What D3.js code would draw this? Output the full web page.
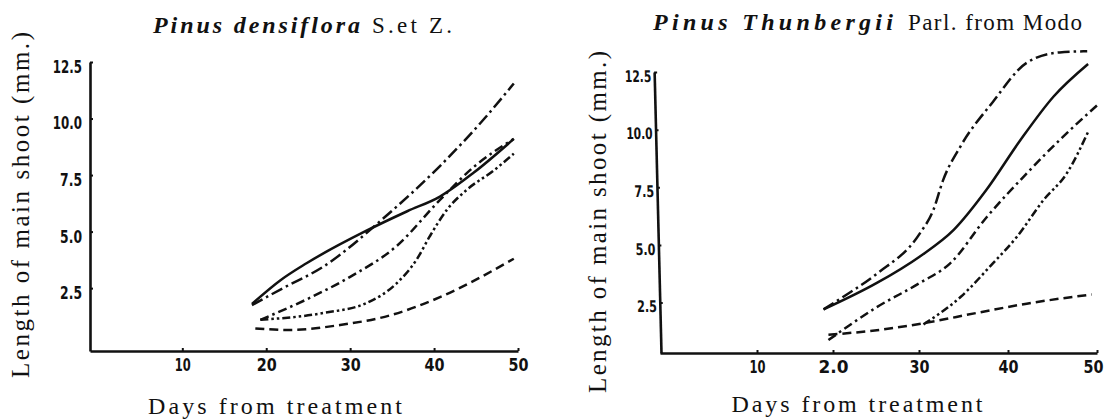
<!DOCTYPE html>
<html>
<head>
<meta charset="utf-8">
<script src="https://cdn.jsdelivr.net/npm/d3@7"></script>
<style>
  body { margin: 0; background: #fff; }
  svg { display: block; }
  .axis path, .axis line { stroke: #111; }
  .axis text { fill: #111; font-family: "DejaVu Sans Condensed", "DejaVu Sans", sans-serif; font-weight: bold; }
  .lbl { fill: #111; font-family: "Liberation Serif", "DejaVu Serif", serif; }
</style>
</head>
<body>
<div id="chart"></div>
<script>
/* DATA */
const dayTicks = [10, 20, 30, 40, 50];
const dayLabelsLeft = ["10", "20", "30", "40", "50"];
const dayLabelsRight = ["10", "2.0", "30", "40", "50"];
const lengthTicks = [2.5, 5, 7.5, 10, 12.5];

// Pinus densiflora, [day, length of main shoot in mm]
const densSolid = [[18.3, 1.8], [21.7, 2.85], [24.8, 3.6], [32, 5.05], [36.8, 5.9], [40.7, 6.55], [44.7, 7.6], [49.5, 9.1]];
const densLongDashDot = [[18.3, 1.75], [22, 2.5], [26.8, 3.45], [34, 5.6], [40.7, 7.9], [46, 10.0], [49.5, 11.55]];
const densDashDot = [[19.3, 1.1], [24.8, 2.0], [30, 3.0], [35.5, 4.35], [40.7, 6.4], [44.7, 7.85], [49.5, 9.1]];
const densDashDotDot = [[19.3, 1.1], [26.8, 1.4], [32, 1.85], [35.5, 2.7], [37.9, 3.75], [39.5, 4.8], [41.5, 5.95], [43.9, 6.85], [47.1, 7.7], [49.5, 8.45]];
const densDashed = [[18.7, 0.72], [22.8, 0.65], [28.8, 0.87], [34.8, 1.3], [40.7, 2.1], [49.5, 3.8]];

// Pinus Thunbergii from Modo
const thunLongDashDot = [[18.75, 2.2], [21.2, 2.75], [25.1, 3.75], [30.1, 5.5], [31.6, 6.5], [32.7, 7.8], [34.7, 9.3], [38.3, 11.2], [42.1, 12.9], [45.8, 13.35], [48.9, 13.4]];
const thunSolid = [[18.75, 2.2], [25.1, 3.35], [30.1, 4.5], [33.9, 5.65], [37.6, 7.4], [41.4, 9.55], [45.15, 11.45], [49, 12.85]];
const thunDashDot = [[19.4, 0.87], [25.1, 2.3], [30.1, 3.35], [33.5, 4.2], [37.6, 6.2], [42.1, 8.1], [46.2, 9.7], [50.15, 11.1]];
const thunDashDotDot = [[30.5, 1.55], [34.7, 2.75], [38.3, 4.2], [41, 5.35], [44, 6.95], [46.6, 8.1], [49, 9.9]];
const thunDashed = [[19.4, 1.1], [25.1, 1.3], [30.5, 1.6], [36.5, 2.05], [42.1, 2.45], [49.4, 2.85]];

/* STYLES */
const dashes = {
  solid: null,
  longDashDot: "12,4,2.5,4",
  dashDot: "9,4,2.5,4",
  dashDotDot: "8,3,2.5,3,2.5,3",
  dashed: "9,5"
};

const width = 1107, height = 419;

const svg = d3.select("#chart")
  .append("svg")
  .attr("width", width)
  .attr("height", height);

// text stretched to the length measured on the picture
function label(x, y, str, len, size, opts = {}) {
  const t = svg.append("text")
    .attr("class", "lbl")
    .attr("x", x)
    .attr("y", y)
    .attr("font-size", size)
    .attr("text-anchor", opts.anchor || "start")
    .attr("textLength", len)
    .attr("lengthAdjust", "spacing")
    .text(str);
  if (opts.italic) t.attr("font-style", "italic").attr("font-weight", "bold");
  if (opts.rotate) t.attr("transform", `rotate(-90,${x},${y})`);
  return t;
}

function panel(p) {
  const line = d3.line()
    .x(d => p.x(d[0]))
    .y(d => p.y(d[1]))
    .curve(d3.curveMonotoneX);

  // x axis
  const gx = svg.append("g")
    .attr("class", "axis")
    .attr("transform", `translate(0,${p.axisY})`)
    .call(d3.axisBottom(p.x)
      .tickValues(dayTicks)
      .tickFormat((d, i) => p.dayLabels[i])
      .tickSize(-3)
      .tickSizeOuter(0)
      .tickPadding(8));
  gx.select(".domain").attr("stroke-width", 2.6);
  gx.selectAll(".tick line").attr("stroke-width", 2);
  gx.selectAll("text")
    .attr("font-size", p.xFont)
    .attr("textLength", d => (d === 10 ? 0.8 : 1) * p.xCharW * String(p.dayLabels[dayTicks.indexOf(d)]).length)
    .attr("lengthAdjust", "spacingAndGlyphs")
    .attr("dx", d => (d === 50 ? p.lastDx : 0));

  // y axis (hand drawn, leaning a little on the right panel)
  const gy = svg.append("g")
    .attr("class", "axis")
    .attr("transform", `translate(${p.axisX},${p.axisY}) skewX(${p.lean}) translate(0,${-p.axisY})`)
    .call(d3.axisLeft(p.y)
      .tickValues(lengthTicks)
      .tickFormat(d3.format(".1f"))
      .tickSize(-3)
      .tickSizeOuter(0)
      .tickPadding(p.yPad));
  gy.select(".domain").attr("stroke-width", 2.6);
  gy.selectAll(".tick line").attr("stroke-width", 2);
  gy.selectAll("text")
    .attr("font-size", p.yFont)
    .attr("dy", "0.58em")
    .attr("textLength", d => p.yCharW * d3.format(".1f")(d).length)
    .attr("lengthAdjust", "spacingAndGlyphs");

  // curves
  svg.append("g")
    .selectAll("path")
    .data(p.series)
    .join("path")
    .attr("d", d => line(d.values))
    .attr("fill", "none")
    .attr("stroke", "#111")
    .attr("stroke-width", 2.5)
    .attr("stroke-dasharray", d => dashes[d.style]);
}

const xLeft = d3.scaleLinear().domain([-1, 50]).range([90, 518]);
const yLeft = d3.scaleLinear().domain([-0.28, 12.5]).range([351, 62]);
// the printed right axis is unevenly spaced
const xRight = d3.scaleLinear().domain([-0.7, 10, 20, 30, 40, 50]).range([660, 757, 833, 919, 1008, 1097]);
const yRight = d3.scaleLinear().domain([0.31, 12.5]).range([353, 72]);

panel({
  x: xLeft, y: yLeft, axisX: 90, axisY: 351, lean: 0, yPad: 8, lastDx: 0,
  xFont: 17, xCharW: 10, yFont: 18, yCharW: 7.3, dayLabels: dayLabelsLeft,
  series: [
    { values: densSolid, style: "solid" },
    { values: densLongDashDot, style: "longDashDot" },
    { values: densDashDot, style: "dashDot" },
    { values: densDashDotDot, style: "dashDotDot" },
    { values: densDashed, style: "dashed" }
  ]
});

panel({
  x: xRight, y: yRight, axisX: 661, axisY: 353, lean: 1.4, yPad: 3, lastDx: -4,
  xFont: 17, xCharW: 10, yFont: 16, yCharW: 6.6, dayLabels: dayLabelsRight,
  series: [
    { values: thunLongDashDot, style: "longDashDot" },
    { values: thunSolid, style: "solid" },
    { values: thunDashDot, style: "dashDot" },
    { values: thunDashDotDot, style: "dashDotDot" },
    { values: thunDashed, style: "dashed" }
  ]
});

// titles
label(153, 33, "Pinus densiflora", 207, 24, { italic: true });
label(372, 33, "S.et Z.", 80, 23);
label(653, 30, "Pinus Thunbergii", 240, 24, { italic: true });
label(908, 30, "Parl. from Modo", 174, 23);

// axis titles
label(275, 414, "Days from treatment", 254, 24, { anchor: "middle" });
label(857, 412, "Days from treatment", 251, 24, { anchor: "middle" });
label(29, 205, "Length of main shoot (mm.)", 346, 25, { anchor: "middle", rotate: true });
label(606, 222, "Length of main shoot (mm.)", 342, 25, { anchor: "middle", rotate: true });
</script>
</body>
</html>
